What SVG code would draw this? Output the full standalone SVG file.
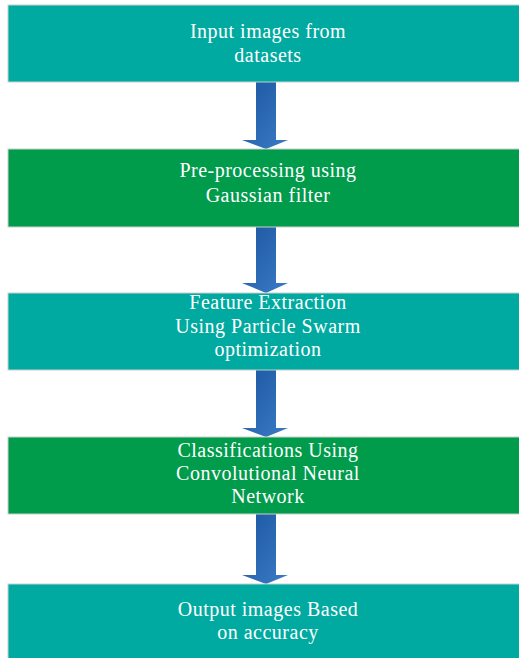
<svg xmlns="http://www.w3.org/2000/svg" width="519" height="658" viewBox="0 0 519 658">
<defs>
<linearGradient id="ag" x1="0" y1="0" x2="1" y2="1">
<stop offset="0" stop-color="#1c56a0"/>
<stop offset="1" stop-color="#3b7bc6"/>
</linearGradient>
<style>
.teal{fill:#00aaa0;stroke:#c9cfcd;stroke-width:1}
.green{fill:#009b4b;stroke:#c9cfcd;stroke-width:1}
.t{font-family:"Liberation Serif","Times New Roman",serif;font-size:20px;letter-spacing:0.5px;fill:#ffffff;text-anchor:middle}
.arr{fill:url(#ag)}
</style>
</defs>
<rect width="519" height="658" fill="#ffffff"/>
<g id="connectors">
<path class="arr" d="M256,82 H276 V140 H288 L266,149 L242,140 H256 Z"/>
<path class="arr" d="M256,227 H276 V283 H288 L266,293 L242,283 H256 Z"/>
<path class="arr" d="M256,370 H276 V428 H288 L266,437 L242,428 H256 Z"/>
<path class="arr" d="M256,514 H276 V575 H288 L266,584 L242,575 H256 Z"/>
</g>
<g id="n1">
<rect class="teal" x="8" y="5" width="515" height="77"/>
<text class="t" x="268" y="38">Input images from</text>
<text class="t" x="268" y="62">datasets</text>
</g>
<g id="n2">
<rect class="green" x="8" y="149" width="515" height="78"/>
<text class="t" x="268" y="177">Pre-processing using</text>
<text class="t" x="268" y="202">Gaussian filter</text>
</g>
<g id="n3">
<rect class="teal" x="8" y="293" width="515" height="77"/>
<text class="t" x="268" y="309">Feature Extraction</text>
<text class="t" x="268" y="333">Using Particle Swarm</text>
<text class="t" x="268" y="356">optimization</text>
</g>
<g id="n4">
<rect class="green" x="8" y="437" width="515" height="77"/>
<text class="t" x="268" y="457">Classifications Using</text>
<text class="t" x="268" y="480">Convolutional Neural</text>
<text class="t" x="268" y="503">Network</text>
</g>
<g id="n5">
<rect class="teal" x="8" y="584" width="515" height="80"/>
<text class="t" x="268" y="616">Output images Based</text>
<text class="t" x="268" y="639">on accuracy</text>
</g>
</svg>
